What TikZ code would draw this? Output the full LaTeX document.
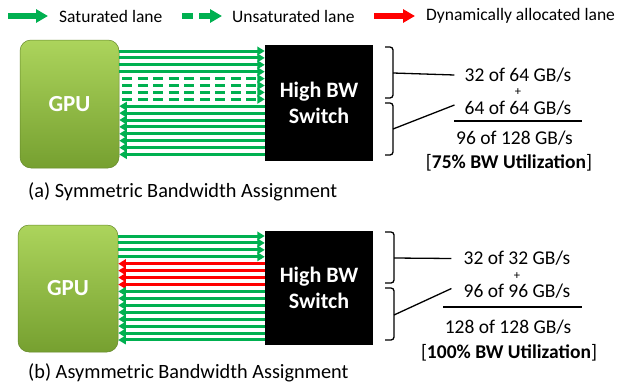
\documentclass[tikz,border=0pt]{standalone}
\usepackage{fontspec}
\setmainfont{Carlito}
\usetikzlibrary{arrows.meta, positioning, calc, shadows}

\definecolor{lanegreen}{RGB}{0,176,80}
\definecolor{lanered}{RGB}{255,0,0}
\definecolor{gpulight}{RGB}{172,212,92}
\definecolor{gpudark}{RGB}{118,160,48}

\tikzset{
  lane/.style={line width=3pt, lanegreen, -{Triangle[width=8.5pt,length=7.5pt]}},
  halflane/.style={lane, dash pattern=on 10pt off 5.5pt, dash phase=-3pt},
  dynlane/.style={lane, lanered},
  gpubox/.style={draw=gpudark!85!black, line width=0.5pt, rounded corners=11pt,
    top color=gpulight, bottom color=gpudark, minimum width=100pt, minimum height=128pt,
    text=white, font=\bfseries\fontsize{23}{26}\selectfont},
  swbox/.style={fill=black, minimum width=108pt, minimum height=116pt, text=white,
    align=center, font=\bfseries\fontsize{22}{25.5}\selectfont},
  rate/.style={font=\fontsize{19.5}{21}\selectfont, inner sep=0pt},
  plus/.style={font=\fontsize{12.5}{13}\selectfont, inner sep=0pt},
  brace/.style={line width=1.3pt, rounded corners=3pt},
  tie/.style={line width=1.3pt},
  keytxt/.style={anchor=west, font=\fontsize{17.5}{19}\selectfont, inner sep=0pt},
  key/.style={line width=5.5pt, -{Triangle[width=13pt,length=12pt]}},
  caption/.style={anchor=west, font=\fontsize{20.3}{23}\selectfont, inner sep=0pt},
}

\begin{document}
\begin{tikzpicture}[x=1pt, y=-1pt]
  \useasboundingbox (0,0) rectangle (617,388);

  % legend
  \coordinate (k1s) at (8,16);  \coordinate (k1e) at (48,16);
  \coordinate (k2s) at (182,16); \coordinate (k2e) at (222,16);
  \coordinate (k3s) at (374,16); \coordinate (k3e) at (415,16);
  \draw[key, lanegreen] (k1s) -- (k1e);
  \draw[key, lanegreen, dash pattern=on 11pt off 6pt] (k2s) -- (k2e);
  \draw[key, lanered] (k3s) -- (k3e);
  \node[keytxt] (t1) at (59,16) {Saturated lane};
  \node[keytxt] (t2) at (232,16) {Unsaturated lane};
  \node[keytxt] (t3) at (426,16) {Dynamically allocated lane};

  % (a) symmetric
  \node[gpubox, minimum width=99pt] (gpuA) at (69.5,104) {GPU};
  \node[swbox] (swA) at (319,103) {High BW\\Switch};
  \foreach \i in {0,...,3} {
    \pgfmathsetmacro{\y}{51+6.9*\i}
    \draw[lane] (gpuA.east |- 0,\y) -- (swA.west |- 0,\y);
  }
  \foreach \i in {4,...,7} {
    \pgfmathsetmacro{\y}{51+6.9*\i}
    \draw[halflane] (gpuA.east |- 0,\y) -- (swA.west |- 0,\y);
  }
  \foreach \i in {8,...,15} {
    \pgfmathsetmacro{\y}{51+6.9*\i}
    \draw[lane] (swA.west |- 0,\y) -- (gpuA.east |- 0,\y);
  }

  \node[rate] (upA) at (518,75) {32 of 64 GB/s};
  \node[plus] (plA) at (518,92.5) {+};
  \node[rate] (dnA) at (518,108) {64 of 64 GB/s};
  \node[rate] (sumA) at (514.5,138) {96 of 128 GB/s};
  \node[rate] (utA) at (509,163) {[\textbf{75\% BW Utilization}]};
  \coordinate (ruleAl) at (454,121); \coordinate (ruleAr) at (582,121);
  \draw[line width=1.1pt] (ruleAl) -- (ruleAr);

  \coordinate (bA1) at (393,73);
  \coordinate (bA2) at (393,129);
  \draw[brace] (385,47) -- (393,47) -- (393,98) -- (385,98);
  \draw[brace] (385,103) -- (393,103) -- (393,155) -- (385,155);
  \draw[tie] (bA1) -- ([xshift=-10pt]upA.west);
  \draw[tie] (bA2) -- ([xshift=-10pt,yshift=3pt]dnA.west);

  \node[caption] (capA) at (28,192) {(a) Symmetric Bandwidth Assignment};

  % (b) asymmetric
  \node[gpubox, minimum height=127pt] (gpuB) at (68,288.5) {GPU};
  \node[swbox, minimum height=114pt] (swB) at (319,288) {High BW\\Switch};
  \foreach \i in {0,...,3} {
    \pgfmathsetmacro{\y}{236+6.93*\i}
    \draw[lane] (gpuB.east |- 0,\y) -- (swB.west |- 0,\y);
  }
  \foreach \i in {4,...,7} {
    \pgfmathsetmacro{\y}{236+6.93*\i}
    \draw[dynlane] (swB.west |- 0,\y) -- (gpuB.east |- 0,\y);
  }
  \foreach \i in {8,...,15} {
    \pgfmathsetmacro{\y}{236+6.93*\i}
    \draw[lane] (swB.west |- 0,\y) -- (gpuB.east |- 0,\y);
  }

  \node[rate] (upB) at (517,258.5) {32 of 32 GB/s};
  \node[plus] (plB) at (517,276) {+};
  \node[rate] (dnB) at (517,291.5) {96 of 96 GB/s};
  \node[rate] (sumB) at (508,327) {128 of 128 GB/s};
  \node[rate] (utB) at (509,353) {[\textbf{100\% BW Utilization}]};
  \coordinate (ruleBl) at (443,307); \coordinate (ruleBr) at (582,307);
  \draw[line width=1.1pt] (ruleBl) -- (ruleBr);

  \coordinate (bB1) at (394,258);
  \coordinate (bB2) at (394,315);
  \draw[brace] (385,232) -- (394,232) -- (394,283) -- (385,283);
  \draw[brace] (385,288) -- (394,288) -- (394,340) -- (385,340);
  \draw[tie] (bB1) -- ([xshift=-12pt]upB.west);
  \draw[tie] (bB2) -- ([xshift=-12pt,yshift=3pt]dnB.west);

  \node[caption] (capB) at (28,373) {(b) Asymmetric Bandwidth Assignment};
\end{tikzpicture}
\end{document}
